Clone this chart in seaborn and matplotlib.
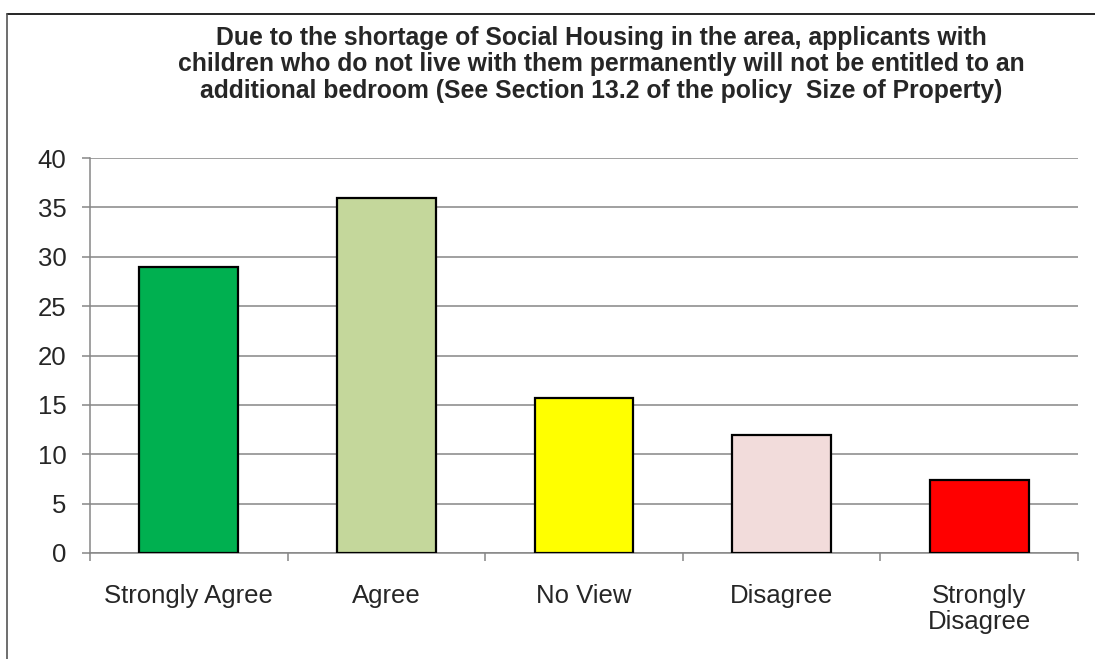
import matplotlib.pyplot as plt
import seaborn as sns
import pandas as pd
from matplotlib.lines import Line2D

# response categories and their share of answers
categories = ["Strongly Agree", "Agree", "No View", "Disagree", "Strongly\nDisagree"]
values = [29, 36, 15.7, 12, 7.4]
colors = ["#00B050", "#C4D79B", "#FFFF00", "#F2DCDB", "#FF0000"]
yticks = [0, 5, 10, 15, 20, 25, 30, 35, 40]

title = ("Due to the shortage of Social Housing in the area, applicants with\n"
         "children who do not live with them permanently will not be entitled to an\n"
         "additional bedroom (See Section 13.2 of the policy  Size of Property)")

df = pd.DataFrame({"category": categories, "value": values})

sns.set_style("white")
plt.rcParams["font.family"] = ["Liberation Sans", "DejaVu Sans"]

fig = plt.figure(figsize=(10.95, 6.59), dpi=100)
ax = fig.add_axes([90 / 1095, 1 - 553 / 659, 988 / 1095, 395 / 659])

sns.barplot(data=df, x="category", y="value", hue="category",
            palette=colors, order=categories, width=0.5, saturation=1,
            edgecolor="black", linewidth=1.6, legend=False, ax=ax, zorder=3)

grid_c = "#868686"
ax.set_ylim(0, 40)
ax.set_xlim(-0.5, len(categories) - 0.5)
ax.set_yticks(yticks)
ax.yaxis.grid(True, color=grid_c, linewidth=1.1, zorder=0)
ax.set_axisbelow(True)
ax.set_xlabel("")
ax.set_ylabel("")

for s in ["top", "right"]:
    ax.spines[s].set_visible(False)
for s in ["left", "bottom"]:
    ax.spines[s].set_color(grid_c)
    ax.spines[s].set_linewidth(1.1)

ax.tick_params(axis="y", length=6, color=grid_c, width=1.1, pad=11, labelsize=18.5, direction="out", left=True)
ax.tick_params(axis="x", length=0, pad=22, labelsize=18.5)
for lab in ax.get_xticklabels():
    lab.set_linespacing(1.15)
# boundary ticks between categories
ax.set_xticks([i - 0.5 for i in range(len(categories) + 1)], minor=True)
ax.tick_params(axis="x", which="minor", length=6, color=grid_c, width=1.1, direction="out", bottom=True)

fig.text(601 / 1095, 1 - 26 / 659, title, ha="center", va="top",
         fontsize=17.8, fontweight="bold", linespacing=1.12)

# outer frame of the chart area
fig.add_artist(Line2D([7 / 1095, 1], [1 - 14 / 659, 1 - 14 / 659], color="black", linewidth=1.2))
fig.add_artist(Line2D([7 / 1095, 7 / 1095], [0, 1 - 14 / 659], color="#555555", linewidth=1.2))

fig.savefig("out.png", dpi=100)
